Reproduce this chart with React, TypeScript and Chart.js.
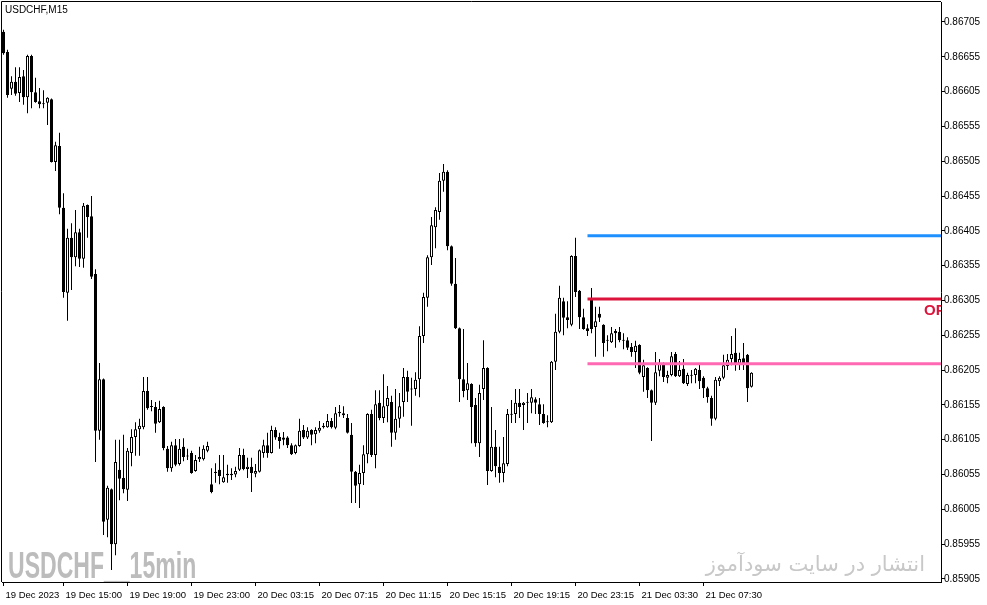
import React, { useEffect, useRef } from "react";
import { Chart, registerables } from "chart.js";

Chart.register(...registerables);

// ---------- text ----------
const CHART_TITLE = "USDCHF,M15";
const WATERMARK_LEFT = "USDCHF__15min";
const WATERMARK_RIGHT = "انتشار در سایت سودآموز";
const LEVEL_TAG = "OP";

// ---------- time axis ----------
const FIRST_BAR = { year: 2023, month: 12, day: 19, hour: 11, minute: 15 };
const BAR_MINUTES = 15;
const MISSING_BARS = ["20 Dec 00:15", "21 Dec 00:15"];
const LABEL_EVERY = 16;
const MONTHS = ["Jan", "Feb", "Mar", "Apr", "May", "Jun", "Jul", "Aug", "Sep", "Oct", "Nov", "Dec"];

// ---------- OHLC (USDCHF, M15) ----------
const OPEN = [
  0.86691, 0.86662, 0.86609, 0.86619, 0.86603, 0.86627, 0.86597, 0.86656, 0.86604, 0.86591,
  0.86588, 0.86589, 0.86594, 0.86504, 0.86527, 0.86438, 0.86316, 0.86395, 0.86367, 0.86403,
  0.86365, 0.86442, 0.86426, 0.86343, 0.86118, 0.86192, 0.85990, 0.86034, 0.85955, 0.86062,
  0.86050, 0.86033, 0.86086, 0.86109, 0.86120, 0.86123, 0.86175, 0.86153, 0.86152, 0.86130,
  0.86152, 0.86092, 0.86064, 0.86097, 0.86070, 0.86095, 0.86082, 0.86086, 0.86060, 0.86077,
  0.86077, 0.86089, 0.86041, 0.86057, 0.86062, 0.86044, 0.86056, 0.86054, 0.86055, 0.86062,
  0.86083, 0.86063, 0.86066, 0.86056, 0.86059, 0.86086, 0.86097, 0.86086, 0.86119, 0.86109,
  0.86108, 0.86108, 0.86097, 0.86086, 0.86096, 0.86119, 0.86108, 0.86119, 0.86113, 0.86118,
  0.86123, 0.86123, 0.86132, 0.86122, 0.86145, 0.86140, 0.86136, 0.86112, 0.86059, 0.86041,
  0.86057, 0.86084, 0.86142, 0.86083, 0.86158, 0.86136, 0.86153, 0.86159, 0.86115, 0.86135,
  0.86159, 0.86195, 0.86178, 0.86178, 0.86192, 0.86254, 0.86309, 0.86367, 0.86410, 0.86432,
  0.86477, 0.86490, 0.86383, 0.86329, 0.86265, 0.86192, 0.86176, 0.86185, 0.86155, 0.86100,
  0.86178, 0.86208, 0.86060, 0.86095, 0.86066, 0.86057, 0.86070, 0.86142, 0.86142, 0.86158,
  0.86155, 0.86158, 0.86158, 0.86163, 0.86156, 0.86142, 0.86130, 0.86130, 0.86217, 0.86260,
  0.86304, 0.86281, 0.86270, 0.86369, 0.86319, 0.86281, 0.86265, 0.86307, 0.86267, 0.86286,
  0.86270, 0.86248, 0.86245, 0.86261, 0.86260, 0.86248, 0.86248, 0.86238, 0.86231, 0.86241,
  0.86195, 0.86208, 0.86176, 0.86158, 0.86204, 0.86215, 0.86194, 0.86198, 0.86228, 0.86196,
  0.86207, 0.86185, 0.86198, 0.86198, 0.86205, 0.86194, 0.86179, 0.86165, 0.86135, 0.86189,
  0.86194, 0.86211, 0.86221, 0.86230, 0.86214, 0.86222, 0.86227, 0.86181,
];
const HIGH = [
  0.86694, 0.86665, 0.86627, 0.86640, 0.86640, 0.86636, 0.86658, 0.86658, 0.86625, 0.86610,
  0.86607, 0.86597, 0.86595, 0.86533, 0.86546, 0.86459, 0.86408, 0.86416, 0.86435, 0.86408,
  0.86445, 0.86443, 0.86455, 0.86350, 0.86215, 0.86193, 0.86039, 0.86035, 0.86105, 0.86105,
  0.86112, 0.86093, 0.86120, 0.86130, 0.86135, 0.86195, 0.86195, 0.86162, 0.86159, 0.86161,
  0.86153, 0.86096, 0.86102, 0.86106, 0.86106, 0.86107, 0.86092, 0.86089, 0.86083, 0.86095,
  0.86097, 0.86102, 0.86064, 0.86071, 0.86083, 0.86083, 0.86069, 0.86064, 0.86066, 0.86093,
  0.86092, 0.86079, 0.86079, 0.86070, 0.86091, 0.86105, 0.86115, 0.86125, 0.86123, 0.86115,
  0.86116, 0.86110, 0.86100, 0.86098, 0.86135, 0.86126, 0.86123, 0.86120, 0.86123, 0.86132,
  0.86129, 0.86142, 0.86136, 0.86152, 0.86155, 0.86153, 0.86142, 0.86129, 0.86060, 0.86069,
  0.86097, 0.86143, 0.86148, 0.86176, 0.86176, 0.86199, 0.86182, 0.86168, 0.86178, 0.86172,
  0.86208, 0.86204, 0.86194, 0.86202, 0.86268, 0.86316, 0.86370, 0.86425, 0.86439, 0.86488,
  0.86501, 0.86492, 0.86384, 0.86366, 0.86266, 0.86264, 0.86215, 0.86186, 0.86165, 0.86184,
  0.86248, 0.86209, 0.86152, 0.86119, 0.86095, 0.86109, 0.86149, 0.86162, 0.86178, 0.86178,
  0.86159, 0.86172, 0.86178, 0.86166, 0.86165, 0.86156, 0.86140, 0.86218, 0.86286, 0.86326,
  0.86309, 0.86304, 0.86370, 0.86395, 0.86320, 0.86293, 0.86271, 0.86323, 0.86296, 0.86296,
  0.86271, 0.86255, 0.86267, 0.86264, 0.86267, 0.86258, 0.86252, 0.86244, 0.86247, 0.86242,
  0.86220, 0.86209, 0.86177, 0.86231, 0.86221, 0.86216, 0.86204, 0.86231, 0.86231, 0.86218,
  0.86221, 0.86201, 0.86205, 0.86208, 0.86214, 0.86196, 0.86181, 0.86168, 0.86195, 0.86196,
  0.86227, 0.86228, 0.86254, 0.86265, 0.86230, 0.86244, 0.86228, 0.86202,
];
const LOW = [
  0.86658, 0.86596, 0.86600, 0.86599, 0.86590, 0.86586, 0.86574, 0.86581, 0.86589, 0.86581,
  0.86581, 0.86557, 0.86503, 0.86491, 0.86429, 0.86309, 0.86276, 0.86320, 0.86354, 0.86353,
  0.86352, 0.86395, 0.86336, 0.86073, 0.86105, 0.85968, 0.85965, 0.85918, 0.85939, 0.86018,
  0.86028, 0.86017, 0.86067, 0.86082, 0.86082, 0.86120, 0.86148, 0.86146, 0.86115, 0.86129,
  0.86090, 0.86059, 0.86059, 0.86067, 0.86068, 0.86074, 0.86076, 0.86056, 0.86059, 0.86073,
  0.86075, 0.86087, 0.86028, 0.86043, 0.86041, 0.86043, 0.86043, 0.86047, 0.86051, 0.86060,
  0.86061, 0.86050, 0.86030, 0.86051, 0.86058, 0.86079, 0.86079, 0.86085, 0.86105, 0.86092,
  0.86097, 0.86093, 0.86083, 0.86084, 0.86095, 0.86106, 0.86106, 0.86097, 0.86100, 0.86115,
  0.86121, 0.86122, 0.86121, 0.86120, 0.86138, 0.86136, 0.86114, 0.86014, 0.86014, 0.86007,
  0.86040, 0.86071, 0.86080, 0.86064, 0.86133, 0.86129, 0.86130, 0.86095, 0.86105, 0.86122,
  0.86138, 0.86159, 0.86125, 0.86168, 0.86166, 0.86244, 0.86296, 0.86356, 0.86380, 0.86421,
  0.86461, 0.86377, 0.86326, 0.86264, 0.86159, 0.86166, 0.86162, 0.86100, 0.86095, 0.86080,
  0.86162, 0.86040, 0.86059, 0.86051, 0.86043, 0.86044, 0.86067, 0.86129, 0.86129, 0.86136,
  0.86119, 0.86129, 0.86143, 0.86142, 0.86126, 0.86128, 0.86123, 0.86129, 0.86205, 0.86258,
  0.86255, 0.86265, 0.86268, 0.86310, 0.86264, 0.86263, 0.86254, 0.86258, 0.86224, 0.86274,
  0.86224, 0.86232, 0.86244, 0.86237, 0.86245, 0.86235, 0.86234, 0.86224, 0.86208, 0.86199,
  0.86174, 0.86165, 0.86103, 0.86155, 0.86196, 0.86188, 0.86186, 0.86196, 0.86195, 0.86195,
  0.86185, 0.86182, 0.86186, 0.86186, 0.86178, 0.86165, 0.86158, 0.86125, 0.86133, 0.86182,
  0.86192, 0.86205, 0.86212, 0.86204, 0.86205, 0.86205, 0.86159, 0.86180,
];
const CLOSE = [
  0.86660, 0.86600, 0.86619, 0.86602, 0.86626, 0.86597, 0.86656, 0.86604, 0.86590, 0.86587,
  0.86587, 0.86596, 0.86504, 0.86528, 0.86438, 0.86317, 0.86395, 0.86367, 0.86403, 0.86365,
  0.86441, 0.86425, 0.86339, 0.86118, 0.86192, 0.85987, 0.86036, 0.85955, 0.86073, 0.86049,
  0.86034, 0.86089, 0.86109, 0.86120, 0.86125, 0.86175, 0.86150, 0.86152, 0.86128, 0.86149,
  0.86093, 0.86064, 0.86097, 0.86069, 0.86092, 0.86080, 0.86081, 0.86057, 0.86076, 0.86080,
  0.86092, 0.86096, 0.86030, 0.86059, 0.86053, 0.86051, 0.86054, 0.86056, 0.86060, 0.86083,
  0.86063, 0.86066, 0.86057, 0.86060, 0.86090, 0.86097, 0.86086, 0.86119, 0.86108, 0.86103,
  0.86105, 0.86097, 0.86084, 0.86097, 0.86118, 0.86108, 0.86118, 0.86112, 0.86119, 0.86122,
  0.86125, 0.86132, 0.86123, 0.86143, 0.86143, 0.86143, 0.86115, 0.86059, 0.86039, 0.86057,
  0.86084, 0.86142, 0.86083, 0.86156, 0.86136, 0.86153, 0.86165, 0.86115, 0.86135, 0.86153,
  0.86195, 0.86174, 0.86177, 0.86191, 0.86254, 0.86310, 0.86367, 0.86413, 0.86435, 0.86477,
  0.86490, 0.86383, 0.86329, 0.86265, 0.86192, 0.86175, 0.86186, 0.86152, 0.86100, 0.86172,
  0.86208, 0.86060, 0.86095, 0.86067, 0.86057, 0.86071, 0.86142, 0.86141, 0.86158, 0.86152,
  0.86158, 0.86159, 0.86166, 0.86158, 0.86142, 0.86129, 0.86131, 0.86217, 0.86260, 0.86309,
  0.86280, 0.86277, 0.86369, 0.86317, 0.86281, 0.86264, 0.86261, 0.86264, 0.86275, 0.86280,
  0.86244, 0.86247, 0.86258, 0.86258, 0.86248, 0.86247, 0.86237, 0.86231, 0.86240, 0.86201,
  0.86212, 0.86176, 0.86158, 0.86202, 0.86215, 0.86195, 0.86198, 0.86225, 0.86196, 0.86205,
  0.86186, 0.86198, 0.86197, 0.86207, 0.86189, 0.86179, 0.86166, 0.86135, 0.86191, 0.86194,
  0.86212, 0.86220, 0.86228, 0.86214, 0.86221, 0.86214, 0.86179, 0.86201,
];

// ---------- price axis and levels ----------
const PRICE_TICKS = [
  0.85905, 0.85955, 0.86005, 0.86055, 0.86105, 0.86155, 0.86205, 0.86255, 0.86305,
  0.86355, 0.86405, 0.86455, 0.86505, 0.86555, 0.86605, 0.86655, 0.86705,
];
const PRICE_MIN = 0.859006;
const PRICE_MAX = 0.867337;
const LEVEL_PRICES = [0.86398, 0.86307, 0.86214];
const LEVEL_START = "21 Dec 00:00";

// ---------- styles ----------
const LEVEL_COLORS = ["#1E90FF", "#DC143C", "#FF69B4"];
const X_MIN = -0.375;
const X_MAX = 234.375;

function pad2(n: number) {
  return String(n).padStart(2, "0");
}

type BarTime = { label: string; dateLabel: string };
function buildBarTimes(count: number): BarTime[] {
  const out: BarTime[] = [];
  let t = Date.UTC(FIRST_BAR.year, FIRST_BAR.month - 1, FIRST_BAR.day, FIRST_BAR.hour, FIRST_BAR.minute);
  let guard = 0;
  while (out.length < count && guard < 10000) {
    guard++;
    const d = new Date(t);
    const label = `${d.getUTCDate()} ${MONTHS[d.getUTCMonth()]} ${pad2(d.getUTCHours())}:${pad2(d.getUTCMinutes())}`;
    if (!MISSING_BARS.includes(label)) {
      out.push({ label, dateLabel: `${d.getUTCDate()} ${MONTHS[d.getUTCMonth()]} ${d.getUTCFullYear()}` });
    }
    t += BAR_MINUTES * 60000;
  }
  return out;
}

export default function App() {
  const canvasRef = useRef<HTMLCanvasElement | null>(null);

  useEffect(() => {
    const canvas = canvasRef.current;
    if (!canvas) return;
    const n = OPEN.length;
    const times = buildBarTimes(n);
    const idx = Array.from({ length: n }, (_, i) => i);

    const tickIdx: number[] = [0];
    for (let i = LABEL_EVERY - 1; i < n; i += LABEL_EVERY) tickIdx.push(i);

    const levelStartIdx = times.findIndex((t) => t.label === LEVEL_START);

    const bodies = idx.map((i) => ({
      x: i,
      y: [Math.min(OPEN[i], CLOSE[i]), Math.max(OPEN[i], CLOSE[i])],
    }));
    const bodyColors = idx.map((i) => (CLOSE[i] >= OPEN[i] ? "#ffffff" : "#000000"));
    const wicks = idx.map((i) => ({ x: i, y: [LOW[i], HIGH[i]] }));

    const levelDatasets = LEVEL_PRICES.map((p, k) => ({
      type: "line" as const,
      data: [
        { x: levelStartIdx, y: p },
        { x: X_MAX, y: p },
      ],
      borderColor: LEVEL_COLORS[k],
      borderWidth: 3,
      pointRadius: 0,
      fill: false,
      order: -1,
    }));

    const decor = {
      id: "decor",
      beforeDatasetsDraw(chart: any) {
        const { ctx, chartArea } = chart;
        ctx.save();
        ctx.beginPath();
        ctx.rect(chartArea.left, chartArea.top, chartArea.right - chartArea.left, chartArea.bottom - chartArea.top);
        ctx.clip();
        ctx.fillStyle = "#bcbcbc";
        ctx.textBaseline = "alphabetic";
        ctx.textAlign = "left";
        ctx.font = "bold 36px 'Liberation Sans', Arial, sans-serif";
        ctx.save();
        ctx.translate(8, 578);
        ctx.scale(0.64, 1);
        ctx.fillText(WATERMARK_LEFT, 0, 0);
        ctx.restore();
        ctx.fillStyle = "#c8c8c8";
        ctx.font = "21px 'DejaVu Sans', sans-serif";
        ctx.textAlign = "right";
        ctx.fillText(WATERMARK_RIGHT, 925, 571);
        ctx.restore();
      },
      afterDatasetsDraw(chart: any) {
        const { ctx, chartArea, scales } = chart;
        ctx.save();
        ctx.beginPath();
        ctx.rect(chartArea.left, chartArea.top, chartArea.right - chartArea.left, chartArea.bottom - chartArea.top);
        ctx.clip();
        ctx.fillStyle = LEVEL_COLORS[1];
        ctx.font = "bold 15px 'Liberation Sans', Arial, sans-serif";
        ctx.textAlign = "left";
        ctx.textBaseline = "alphabetic";
        const yRed = scales.y.getPixelForValue(LEVEL_PRICES[1]);
        ctx.fillText(LEVEL_TAG, 924, yRed + 16);
        ctx.restore();

        ctx.save();
        ctx.strokeStyle = "#000000";
        ctx.lineWidth = 1;
        ctx.beginPath();
        ctx.moveTo(1.5, chartArea.bottom);
        ctx.lineTo(1.5, 1.5);
        ctx.lineTo(chartArea.right, 1.5);
        ctx.stroke();
        ctx.fillStyle = "#000000";
        ctx.font = "10px 'Liberation Sans', Arial, sans-serif";
        ctx.textAlign = "left";
        ctx.textBaseline = "top";
        ctx.fillText(CHART_TITLE, 5, 5);
        ctx.restore();
      },
    };

    const chart = new Chart(canvas, {
      type: "bar",
      data: {
        datasets: [
          {
            data: bodies as any,
            backgroundColor: bodyColors,
            borderColor: "#000000",
            borderWidth: 1,
            borderSkipped: false,
            barThickness: 3,
            grouped: false,
            inflateAmount: 0,
            minBarLength: 1,
            order: 0,
          } as any,
          {
            data: wicks as any,
            backgroundColor: "#000000",
            borderWidth: 0,
            barThickness: 1,
            grouped: false,
            inflateAmount: 0,
            order: 1,
          } as any,
          ...(levelDatasets as any[]),
        ],
      },
      options: {
        animation: false,
        responsive: false,
        events: [],
        layout: { padding: { left: 2, top: 2, right: 0, bottom: 0 } },
        plugins: { legend: { display: false }, tooltip: { enabled: false } },
        scales: {
          x: {
            type: "linear",
            min: X_MIN,
            max: X_MAX,
            offset: false,
            grid: { display: true, drawOnChartArea: false, drawTicks: true, tickLength: 4, color: "#000000", offset: false },
            border: { display: true, color: "#000000", width: 1 },
            afterBuildTicks: (s: any) => {
              s.ticks = tickIdx.map((v) => ({ value: v }));
            },
            afterFit: (s: any) => {
              s.height = 23;
              s.paddingLeft = 0;
              s.paddingRight = 0;
            },
            ticks: {
              autoSkip: false,
              maxRotation: 0,
              minRotation: 0,
              align: "start",
              labelOffset: 2,
              padding: 4,
              color: "#000000",
              font: { family: "'Liberation Sans', Arial, sans-serif", size: 9.5 },
              callback: (v: any) => {
                const i = Math.round(Number(v));
                if (!times[i]) return "";
                return i === 0 ? times[i].dateLabel : times[i].label;
              },
            },
          } as any,
          y: {
            type: "linear",
            position: "right",
            min: PRICE_MIN,
            max: PRICE_MAX,
            grid: { display: true, drawOnChartArea: false, drawTicks: true, tickLength: 4, color: "#000000" },
            border: { display: true, color: "#000000", width: 1 },
            afterBuildTicks: (s: any) => {
              s.ticks = PRICE_TICKS.map((v) => ({ value: v }));
            },
            afterFit: (s: any) => {
              s.width = 46;
              s.paddingTop = 0;
              s.paddingBottom = 0;
            },
            ticks: {
              padding: -1,
              color: "#000000",
              font: { family: "'Liberation Sans', Arial, sans-serif", size: 10 },
              callback: (v: any) => Number(v).toFixed(5),
            },
          } as any,
        },
      },
      plugins: [decor],
    });

    return () => chart.destroy();
  }, []);

  return (
    <div style={{ position: "fixed", left: 0, top: 0, width: 987, height: 605, background: "#ffffff" }}>
      <canvas ref={canvasRef} width={987} height={605} style={{ width: 987, height: 605, display: "block" }} />
    </div>
  );
}
